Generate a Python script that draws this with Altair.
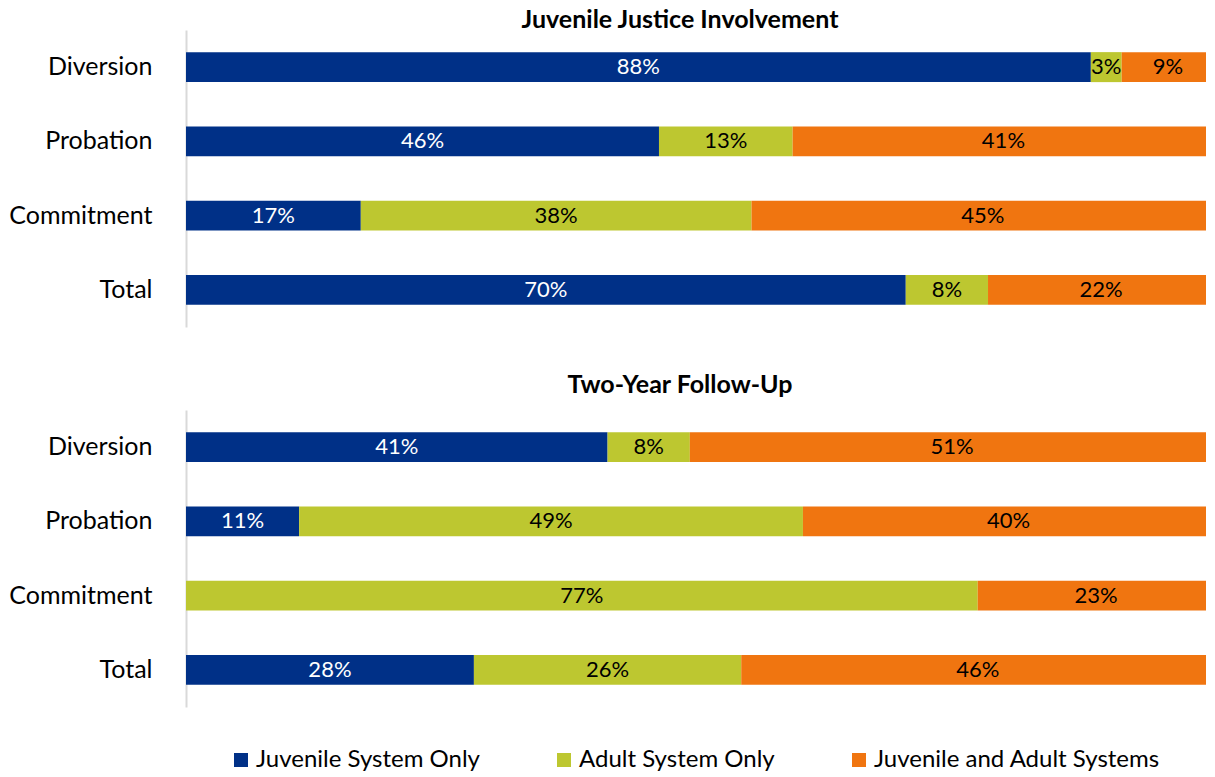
import altair as alt
import pandas as pd

categories = ["Diversion", "Probation", "Commitment", "Total"]
series = ["Juvenile System Only", "Adult System Only", "Juvenile and Adult Systems"]
colors = ["#003087", "#BDC730", "#F07510"]

involvement_juvenile = [88, 46, 17, 70]
involvement_adult = [3, 13, 38, 8]
involvement_both = [9, 41, 45, 22]

followup_juvenile = [41, 11, 0, 28]
followup_adult = [8, 49, 77, 26]
followup_both = [51, 40, 23, 46]

FONT = "Lato"


def make_df(lists):
    rows = []
    for si, (s, vals) in enumerate(zip(series, lists)):
        for c, v in zip(categories, vals):
            rows.append({"category": c, "series": s, "order": si, "value": v})
    return pd.DataFrame(rows)


def panel(df, title, title_offset):
    base = alt.Chart(df).transform_window(
        cum="sum(value)",
        sort=[alt.SortField("order")],
        groupby=["category"],
        frame=[None, 0],
    ).transform_calculate(
        start="datum.cum - datum.value",
        mid="datum.cum - datum.value / 2",
        lbl="datum.value + '%'",
    )
    y = alt.Y(
        "category:N",
        sort=categories,
        title=None,
        scale=alt.Scale(paddingInner=0.596, paddingOuter=0.298),
        axis=alt.Axis(
            ticks=False,
            grid=False,
            domainColor="#d9d9d9",
            domainWidth=2,
            labelFontSize=25,
            labelFont=FONT,
            labelColor="#000000",
            labelPadding=34,
        ),
    )
    xscale = alt.Scale(domain=[0, 99.2], nice=False, zero=True)
    bars = base.mark_bar(clip=True).encode(
        x=alt.X("start:Q", scale=xscale, axis=None),
        x2="cum:Q",
        y=y,
        color=alt.Color(
            "series:N",
            sort=series,
            scale=alt.Scale(domain=series, range=colors),
            legend=alt.Legend(
                title=None,
                orient="none",
                legendX=43,
                legendY=718,
                direction="horizontal",
                symbolType="square",
                symbolSize=196,
                symbolStrokeWidth=0,
                labelFontSize=24,
                labelFont=FONT,
                labelColor="#000000",
                labelLimit=500,
                columnPadding=72,
                labelOffset=3,
            ),
        ),
    )
    text = base.transform_filter("datum.value > 0").mark_text(
        fontSize=22, font=FONT, clip=True
    ).encode(
        x=alt.X("mid:Q", scale=xscale, axis=None),
        y=y,
        text="lbl:N",
        color=alt.condition("datum.order == 0", alt.value("white"), alt.value("black")),
    )
    return alt.layer(bars, text).properties(
        width=1020,
        height=297,
        title=alt.TitleParams(
            title, fontSize=25, font=FONT, fontWeight="bold", anchor="middle",
            dx=-16, offset=title_offset, color="#000000",
        ),
    )


top = panel(make_df([involvement_juvenile, involvement_adult, involvement_both]),
            "Juvenile Justice Involvement", -3)
bottom = panel(make_df([followup_juvenile, followup_adult, followup_both]),
               "Two-Year Follow-Up", 12)

chart = alt.vconcat(top, bottom, spacing=46).properties(
    padding=0, background="white"
).configure_view(stroke=None)

chart.save("out.html", embed_options={"renderer": "svg", "actions": False})
